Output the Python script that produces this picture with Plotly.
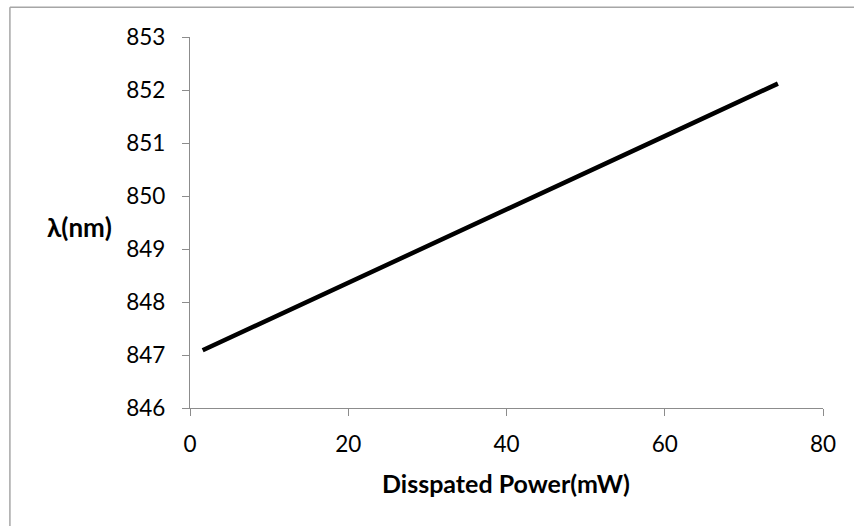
import plotly.graph_objects as go

# Emission wavelength versus dissipated power
power_mw = [1.6, 20, 40, 60, 74.3]
wavelength_nm = [847.09, 848.37, 849.75, 851.13, 852.12]

x_ticks = [0, 20, 40, 60, 80]
y_ticks = [846, 847, 848, 849, 850, 851, 852, 853]

FONT = "Lato"
AXIS_GREY = "#8c8c8c"

fig = go.Figure()
fig.add_trace(go.Scatter(
    x=power_mw, y=wavelength_nm, mode="lines",
    line=dict(color="black", width=4.5),
    showlegend=False, hoverinfo="skip",
))

# plot area spans 190..822.7 px horizontally and 36.7..407.7 px vertically
L, R, T, B = 190, 31.3, 36.7, 118.3
W, H = 854, 526
pw, ph = W - L - R, H - T - B

def px_to_paper_x(px):
    return (px - L) / pw

def px_to_paper_y(py):
    return (H - B - py) / ph

fig.update_layout(
    width=W, height=H,
    margin=dict(l=L, r=R, t=T, b=B, pad=0),
    paper_bgcolor="white", plot_bgcolor="white",
    font=dict(family=FONT, color="black", size=22),
    xaxis=dict(
        range=[0, 80], tickvals=x_ticks, ticktext=[str(v) for v in x_ticks],
        showgrid=False, zeroline=False,
        showline=True, linecolor=AXIS_GREY, linewidth=1.3,
        ticks="outside", ticklen=7, tickcolor=AXIS_GREY, tickwidth=1.3,
        tickfont=dict(family=FONT, size=22.5, color="black"),
        ticklabelstandoff=9,
    ),
    yaxis=dict(
        range=[846, 853], tickvals=y_ticks, ticktext=[str(v) for v in y_ticks],
        showgrid=False, zeroline=False,
        showline=True, linecolor=AXIS_GREY, linewidth=1.3,
        ticks="outside", ticklen=7, tickcolor=AXIS_GREY, tickwidth=1.3,
        tickfont=dict(family=FONT, size=22.5, color="black"),
        ticklabelstandoff=12,
    ),
    annotations=[
        dict(text="<b>Disspated Power(mW)</b>", xref="paper", yref="paper",
             x=px_to_paper_x(506), y=px_to_paper_y(483), showarrow=False,
             xanchor="center", yanchor="middle",
             font=dict(family=FONT, size=25, color="black")),
        dict(text="<b>λ(nm)</b>", xref="paper", yref="paper",
             x=px_to_paper_x(79.5), y=px_to_paper_y(227), showarrow=False,
             xanchor="center", yanchor="middle",
             font=dict(family=FONT, size=26, color="black")),
    ],
    shapes=[
        # chart-area frame (left and top edges visible)
        dict(type="line", xref="paper", yref="paper",
             x0=px_to_paper_x(10), x1=px_to_paper_x(10),
             y0=px_to_paper_y(7), y1=px_to_paper_y(530),
             line=dict(color="#a6a6a6", width=1.5)),
        dict(type="line", xref="paper", yref="paper",
             x0=px_to_paper_x(10), x1=px_to_paper_x(860),
             y0=px_to_paper_y(7), y1=px_to_paper_y(7),
             line=dict(color="#a6a6a6", width=1.5)),
    ],
)

fig.write_html("out.html")
